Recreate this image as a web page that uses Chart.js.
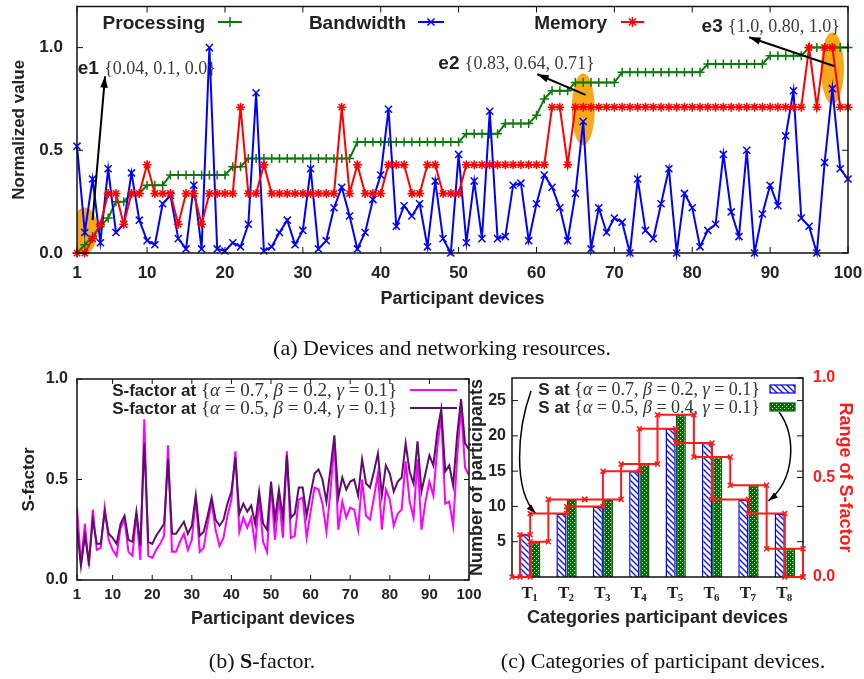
<!DOCTYPE html>
<html>
<head>
<meta charset="utf-8">
<script src="https://cdn.jsdelivr.net/npm/chart.js@4.4.0/dist/chart.umd.min.js"></script>
<style>
  html, body { margin: 0; padding: 0; background: #fff; }
  #wrap { position: relative; width: 864px; height: 679px; overflow: hidden; }
  #wrap canvas { position: absolute; left: 0; top: 0; }
</style>
</head>
<body>
<div id="wrap">
  <canvas id="devices" width="864" height="679"></canvas>
  <canvas id="sfactor" width="864" height="679"></canvas>
  <canvas id="categories" width="864" height="679"></canvas>
  <canvas id="steps" width="864" height="679"></canvas>
  <canvas id="captions" width="864" height="679"></canvas>
</div>
<script>
var SANS = '"Liberation Sans", Arial, sans-serif';
var SERIF = '"Liberation Serif", "Times New Roman", serif';
var INK = '#222';

// ---- (a) devices and networking resources ----
var deviceIds = [];
for (var n = 1; n <= 100; n++) deviceIds.push(n);
var deviceTicks = [1, 10, 20, 30, 40, 50, 60, 70, 80, 90, 100];
var normTicks = [0, 0.5, 1.0];

var processing = [
  0, 0.04, 0.08, 0.13, 0.17, 0.25, 0.25, 0.29, 0.29, 0.33,
  0.33, 0.33, 0.38, 0.38, 0.38, 0.38, 0.38, 0.38, 0.38, 0.38,
  0.42, 0.42, 0.46, 0.46, 0.46, 0.46, 0.46, 0.46, 0.46, 0.46,
  0.46, 0.46, 0.46, 0.46, 0.46, 0.46, 0.54, 0.54, 0.54, 0.54,
  0.54, 0.54, 0.54, 0.54, 0.54, 0.54, 0.54, 0.54, 0.54, 0.54,
  0.58, 0.58, 0.58, 0.58, 0.58, 0.63, 0.63, 0.63, 0.63, 0.67,
  0.75, 0.79, 0.79, 0.79, 0.83, 0.83, 0.83, 0.83, 0.83, 0.83,
  0.88, 0.88, 0.88, 0.88, 0.88, 0.88, 0.88, 0.88, 0.88, 0.88,
  0.88, 0.92, 0.92, 0.92, 0.92, 0.92, 0.92, 0.92, 0.92, 0.96,
  0.96, 0.96, 0.96, 0.96, 1.0, 1.0, 1.0, 1.0, 1.0, 1.0
];
var bandwidth = [
  0.52, 0.10, 0.36, 0.05, 0.41, 0.10, 0.14, 0.39, 0.16, 0.06,
  0.04, 0.24, 0.28, 0.07, 0.02, 0.33, 0.02, 1.0, 0.02, 0.01,
  0.05, 0.03, 0.14, 0.78, 0.01, 0.03, 0.10, 0.16, 0.04, 0.11,
  0.41, 0.02, 0.06, 0.22, 0.32, 0.18, 0.02, 0.10, 0.26, 0.38,
  0.70, 0.13, 0.23, 0.18, 0.24, 0.03, 0.35, 0.07, 0.0, 0.48,
  0.05, 0.35, 0.07, 0.69, 0.07, 0.08, 0.33, 0.34, 0.06, 0.24,
  0.38, 0.32, 0.22, 0.06, 0.29, 0.64, 0.02, 0.22, 0.10, 0.17,
  0.15, 0.0, 0.36, 0.11, 0.07, 0.24, 0.41, 0.0, 0.29, 0.22,
  0.03, 0.11, 0.14, 0.48, 0.20, 0.08, 0.50, 0.0, 0.19, 0.33,
  0.23, 0.57, 0.79, 0.17, 0.13, 0.0, 0.44, 0.80, 0.41, 0.36
];
var memory = [
  0, 0, 0.07, 0.14, 0.29, 0.29, 0.14, 0.29, 0.29, 0.43,
  0.29, 0.29, 0.29, 0.14, 0.29, 0.29, 0.14, 0.29, 0.29, 0.29,
  0.29, 0.71, 0.29, 0.29, 0.43, 0.29, 0.29, 0.29, 0.29, 0.29,
  0.29, 0.29, 0.29, 0.29, 0.71, 0.29, 0.43, 0.29, 0.29, 0.29,
  0.43, 0.43, 0.43, 0.29, 0.29, 0.43, 0.43, 0.29, 0.29, 0.29,
  0.43, 0.43, 0.43, 0.43, 0.43, 0.43, 0.43, 0.43, 0.43, 0.43,
  0.43, 0.71, 0.71, 0.43, 0.71, 0.71, 0.71, 0.71, 0.71, 0.71,
  0.71, 0.71, 0.71, 0.71, 0.71, 0.71, 0.71, 0.71, 0.71, 0.71,
  0.71, 0.71, 0.71, 0.71, 0.71, 0.71, 0.71, 0.71, 0.71, 0.71,
  0.71, 0.71, 0.71, 0.71, 1.0, 0.71, 1.0, 1.0, 0.71, 0.71
];
// highlighted devices: name, device id, {processing, bandwidth, memory} as printed
var highlights = [
  { name: 'e1', device: 2, values: ['0.04', '0.1', '0.0'] },
  { name: 'e2', device: 66, values: ['0.83', '0.64', '0.71'] },
  { name: 'e3', device: 98, values: ['1.0', '0.80', '1.0'] }
];

// ---- (b) S-factor ----
var sFactorA = [
  0.36, 0.08, 0.28, 0.07, 0.35, 0.15, 0.16, 0.36, 0.20, 0.15,
  0.12, 0.26, 0.30, 0.14, 0.12, 0.33, 0.10, 0.80, 0.12, 0.11,
  0.15, 0.18, 0.22, 0.67, 0.14, 0.14, 0.19, 0.23, 0.15, 0.20,
  0.41, 0.14, 0.16, 0.28, 0.39, 0.25, 0.17, 0.21, 0.32, 0.40,
  0.64, 0.24, 0.31, 0.26, 0.31, 0.17, 0.40, 0.19, 0.14, 0.47,
  0.20, 0.41, 0.21, 0.64, 0.21, 0.22, 0.40, 0.41, 0.21, 0.34,
  0.46, 0.45, 0.38, 0.24, 0.44, 0.68, 0.25, 0.39, 0.31, 0.36,
  0.35, 0.25, 0.50, 0.32, 0.30, 0.41, 0.53, 0.25, 0.45, 0.40,
  0.27, 0.33, 0.35, 0.59, 0.39, 0.31, 0.60, 0.25, 0.39, 0.49,
  0.42, 0.66, 0.82, 0.38, 0.39, 0.27, 0.61, 0.86, 0.56, 0.52
];
var sFactorB = [
  0.26, 0.07, 0.22, 0.09, 0.30, 0.18, 0.18, 0.34, 0.23, 0.21,
  0.18, 0.28, 0.32, 0.20, 0.19, 0.34, 0.17, 0.68, 0.19, 0.18,
  0.22, 0.25, 0.28, 0.60, 0.23, 0.23, 0.26, 0.29, 0.23, 0.27,
  0.42, 0.22, 0.24, 0.32, 0.41, 0.30, 0.27, 0.30, 0.38, 0.44,
  0.61, 0.33, 0.38, 0.34, 0.37, 0.28, 0.44, 0.28, 0.25, 0.49,
  0.30, 0.45, 0.31, 0.62, 0.31, 0.33, 0.46, 0.46, 0.32, 0.43,
  0.53, 0.55, 0.50, 0.39, 0.55, 0.72, 0.41, 0.51, 0.45, 0.49,
  0.50, 0.42, 0.60, 0.48, 0.46, 0.54, 0.63, 0.42, 0.57, 0.53,
  0.44, 0.49, 0.51, 0.68, 0.54, 0.48, 0.69, 0.44, 0.53, 0.62,
  0.57, 0.74, 0.85, 0.54, 0.57, 0.47, 0.72, 0.90, 0.68, 0.65
];
var weightsA = ['0.7', '0.2', '0.1'];
var weightsB = ['0.5', '0.4', '0.1'];

// ---- (c) categories ----
var categories = ['1', '2', '3', '4', '5', '6', '7', '8'];
var countsA = [6, 9, 10, 15, 21, 19, 11, 9];
var countsB = [5, 11, 11, 16, 23, 17, 13, 4];
var countTicks = [5, 10, 15, 20, 25];
var rangeTicks = [0, 0.5, 1.0];

function pts(vals) {
  return vals.map(function (v, i) { return { x: deviceIds[i], y: v }; });
}
function fixed1(v) { return Number(v).toFixed(1); }
function setTicks(vals) {
  return function (s) { s.ticks = vals.map(function (v) { return { value: v }; }); };
}
// force an axis box size and drop the label overhang padding
function fixSize(prop, size) {
  return function (s) {
    s[prop] = size;
    s.paddingLeft = 0; s.paddingRight = 0; s.paddingTop = 0; s.paddingBottom = 0;
  };
}
function bold(size) { return { family: SANS, size: size, weight: 'bold' }; }

function partsWidth(ctx, parts) {
  var w = 0;
  parts.forEach(function (p) { ctx.font = p[1]; w += ctx.measureText(p[0]).width; });
  return w;
}
function drawParts(ctx, parts, x, y, align) {
  var w = partsWidth(ctx, parts);
  if (align === 'right') x -= w;
  if (align === 'center') x -= w / 2;
  ctx.textAlign = 'left';
  ctx.textBaseline = 'alphabetic';
  parts.forEach(function (p) {
    ctx.font = p[1];
    ctx.fillStyle = p[2] || INK;
    ctx.fillText(p[0], x, y);
    x += ctx.measureText(p[0]).width;
  });
}
function weightParts(prefix, w, size) {
  var r = size + 'px ' + SERIF, it = 'italic ' + r;
  return [[prefix, 'bold 17px ' + SANS], ['{', r, '#333'], ['\u03b1', it, '#333'],
    [' = ' + w[0] + ', ', r, '#333'], ['\u03b2', it, '#333'], [' = ' + w[1] + ', ', r, '#333'],
    ['\u03b3', it, '#333'], [' = ' + w[2] + '}', r, '#333']];
}
function arrowHead(ctx, x, y, ang, size) {
  ctx.beginPath();
  ctx.moveTo(x, y);
  ctx.lineTo(x - size * Math.cos(ang - 0.32), y - size * Math.sin(ang - 0.32));
  ctx.lineTo(x - size * Math.cos(ang + 0.32), y - size * Math.sin(ang + 0.32));
  ctx.closePath();
  ctx.fill();
}
function frame(chart, xVals, yVals, yRightVals, len) {
  var ctx = chart.ctx, a = chart.chartArea, xs = chart.scales.x, ys = chart.scales.y;
  ctx.save();
  ctx.strokeStyle = '#111';
  ctx.lineWidth = 1;
  ctx.beginPath();
  xVals.forEach(function (v) {
    var p = xs.getPixelForValue(v);
    ctx.moveTo(p, a.bottom); ctx.lineTo(p, a.bottom - len);
    ctx.moveTo(p, a.top); ctx.lineTo(p, a.top + len);
  });
  yVals.forEach(function (v) {
    var p = ys.getPixelForValue(v);
    ctx.moveTo(a.left, p); ctx.lineTo(a.left + len, p);
    ctx.moveTo(a.right, p); ctx.lineTo(a.right - len, p);
  });
  if (yRightVals) {
    yRightVals.forEach(function (v) {
      var p = chart.scales.y2.getPixelForValue(v);
      ctx.moveTo(a.right, p); ctx.lineTo(a.right - len, p);
    });
  }
  ctx.stroke();
  ctx.lineWidth = 1.5;
  ctx.strokeRect(a.left, a.top, a.right - a.left, a.bottom - a.top);
  ctx.restore();
}

var PROC = '#0b7a0b', BAND = '#0000ff', MEM = '#ff0000';

// layout of the highlight marks (ellipse, arrow, label) in data units
var marks = {
  e1: { cy: 0.11, rx: 13, ry: 23, tail: [3.0, 0.16], head: [4.6, 0.86], label: [1.1, 0.905] },
  e2: { cy: 0.70, rx: 11.5, ry: 36, tail: [66.3, 0.77], head: [60.1, 0.87], label: [47.4, 0.93] },
  e3: { cy: 0.90, rx: 11.5, ry: 36, tail: [98.2, 0.91], head: [87.3, 1.05], label: [81.2, 1.11] }
};

var devicesDecor = {
  id: 'devicesDecor',
  beforeDatasetsDraw: function (chart) {
    var ctx = chart.ctx, a = chart.chartArea, xs = chart.scales.x, ys = chart.scales.y;
    ctx.save();
    ctx.beginPath();
    ctx.rect(a.left, a.top, a.right - a.left, a.bottom - a.top);
    ctx.clip();
    ctx.fillStyle = '#f7a81b';
    highlights.forEach(function (h) {
      var m = marks[h.name];
      ctx.beginPath();
      ctx.ellipse(xs.getPixelForValue(h.device), ys.getPixelForValue(m.cy), m.rx, m.ry, 0, 0, Math.PI * 2);
      ctx.fill();
    });
    ctx.restore();
  },
  afterDatasetsDraw: function (chart) {
    var ctx = chart.ctx, xs = chart.scales.x, ys = chart.scales.y;
    frame(chart, deviceTicks, normTicks, null, 6);
    ctx.save();
    highlights.forEach(function (h) {
      var m = marks[h.name];
      var x0 = xs.getPixelForValue(m.tail[0]), y0 = ys.getPixelForValue(m.tail[1]);
      var x1 = xs.getPixelForValue(m.head[0]), y1 = ys.getPixelForValue(m.head[1]);
      ctx.strokeStyle = '#000'; ctx.fillStyle = '#000'; ctx.lineWidth = 2;
      ctx.beginPath(); ctx.moveTo(x0, y0); ctx.lineTo(x1, y1); ctx.stroke();
      arrowHead(ctx, x1, y1, Math.atan2(y1 - y0, x1 - x0), 12);
      drawParts(ctx, [[h.name + ' ', 'bold 19px ' + SANS, INK],
        ['{' + h.values.join(', ') + '}', '18px ' + SERIF, '#3a3a3a']],
        xs.getPixelForValue(m.label[0]), ys.getPixelForValue(m.label[1]) + 7, 'left');
    });
    // key
    var key = [
      { text: 'Processing', right: 205, x0: 218, x1: 242, color: PROC, style: 'cross', r: 5 },
      { text: 'Bandwidth', right: 406, x0: 418, x1: 444, color: BAND, style: 'crossRot', r: 5 },
      { text: 'Memory', right: 607, x0: 621, x1: 644, color: MEM, style: 'star', r: 5 }
    ];
    key.forEach(function (k) {
      drawParts(ctx, [[k.text, 'bold 19px ' + SANS, INK]], k.right, 29, 'right');
      ctx.strokeStyle = k.color; ctx.fillStyle = k.color; ctx.lineWidth = 2;
      ctx.beginPath(); ctx.moveTo(k.x0, 22); ctx.lineTo(k.x1, 22); ctx.stroke();
      ctx.lineWidth = 1.5;
      Chart.helpers.drawPoint(ctx, { pointStyle: k.style, radius: k.r, rotation: 0, borderWidth: 1.5 }, (k.x0 + k.x1) / 2, 22);
    });
    ctx.restore();
  }
};

function lineSet(label, vals, color, style, radius, order) {
  return {
    label: label, data: pts(vals), borderColor: color, backgroundColor: color,
    pointBorderColor: color, pointBackgroundColor: color, pointStyle: style,
    pointRadius: radius, pointBorderWidth: 1.5, borderWidth: 2, tension: 0,
    fill: false, clip: 8, order: order
  };
}

new Chart(document.getElementById('devices'), {
  type: 'line',
  data: {
    datasets: [
      lineSet('Processing', processing, PROC, 'cross', 4.5, 3),
      lineSet('Bandwidth', bandwidth, BAND, 'crossRot', 5, 2),
      lineSet('Memory', memory, MEM, 'star', 4.5, 1)
    ]
  },
  options: {
    responsive: false, animation: false, events: [],
    layout: { padding: { left: 0, top: 4, right: 16, bottom: 366 } },
    plugins: { legend: { display: false }, tooltip: { enabled: false } },
    scales: {
      x: {
        type: 'linear', min: 1, max: 100,
        afterBuildTicks: setTicks(deviceTicks),
        afterFit: fixSize('height', 60),
        grid: { display: false, drawTicks: false }, border: { display: false },
        ticks: { font: bold(17), color: INK, padding: 10, maxRotation: 0, autoSkip: false },
        title: { display: true, text: 'Participant devices', font: bold(18), color: INK, padding: { top: 0, bottom: 3 } }
      },
      y: {
        min: 0, max: 1.2,
        afterBuildTicks: setTicks(normTicks),
        afterFit: fixSize('width', 77),
        grid: { display: false, drawTicks: false }, border: { display: false },
        ticks: { font: bold(17), color: INK, padding: 14, callback: fixed1 },
        title: { display: true, text: 'Normalized value', font: bold(17), color: INK, padding: { top: 9, bottom: 0 } }
      }
    }
  },
  plugins: [devicesDecor]
});

// ---- (b) ----
var MAG = '#ff00ff', PURPLE = '#5c0f6b';
var sfactorDecor = {
  id: 'sfactorDecor',
  afterDatasetsDraw: function (chart) {
    var ctx = chart.ctx;
    frame(chart, deviceTicks, normTicks, null, 5);
    ctx.save();
    var rows = [{ w: weightsA, color: MAG, y: 390 }, { w: weightsB, color: PURPLE, y: 408 }];
    rows.forEach(function (r) {
      drawParts(ctx, weightParts('S-factor at ', r.w, 19), 397, r.y + 6, 'right');
      ctx.strokeStyle = r.color; ctx.lineWidth = 2;
      ctx.beginPath(); ctx.moveTo(410, r.y); ctx.lineTo(457, r.y); ctx.stroke();
    });
    ctx.restore();
  }
};
function sLine(vals, color, order) {
  return { data: pts(vals), borderColor: color, borderWidth: 2, pointRadius: 0, tension: 0, fill: false, order: order };
}
new Chart(document.getElementById('sfactor'), {
  type: 'line',
  data: { datasets: [sLine(sFactorA, MAG, 2), sLine(sFactorB, PURPLE, 1)] },
  options: {
    responsive: false, animation: false, events: [],
    layout: { padding: { left: 0, top: 379, right: 395, bottom: 47 } },
    plugins: { legend: { display: false }, tooltip: { enabled: false } },
    scales: {
      x: {
        type: 'linear', min: 1, max: 100,
        afterBuildTicks: setTicks(deviceTicks),
        afterFit: fixSize('height', 52),
        grid: { display: false, drawTicks: false }, border: { display: false },
        ticks: { font: bold(15), color: INK, padding: 6, maxRotation: 0, autoSkip: false },
        title: { display: true, text: 'Participant devices', font: bold(18), color: INK, padding: { top: 0, bottom: 2 } }
      },
      y: {
        min: 0, max: 1.0,
        afterBuildTicks: setTicks(normTicks),
        afterFit: fixSize('width', 77),
        grid: { display: false, drawTicks: false }, border: { display: false },
        ticks: { font: bold(16), color: INK, padding: 9, callback: fixed1 },
        title: { display: true, text: 'S-factor', font: bold(17), color: INK, padding: { top: 19, bottom: 0 } }
      }
    }
  },
  plugins: [sfactorDecor]
});

// ---- (c) ----
function hatch() {
  var c = document.createElement('canvas'); c.width = 6; c.height = 6;
  var g = c.getContext('2d');
  g.fillStyle = '#fff'; g.fillRect(0, 0, 6, 6);
  g.strokeStyle = '#1a1aff'; g.lineWidth = 1.5;
  g.beginPath();
  g.moveTo(-3, 3); g.lineTo(3, 9);
  g.moveTo(0, 0); g.lineTo(6, 6);
  g.moveTo(3, -3); g.lineTo(9, 3);
  g.stroke();
  return g.createPattern(c, 'repeat');
}
function checker() {
  var c = document.createElement('canvas'); c.width = 4; c.height = 4;
  var g = c.getContext('2d');
  g.fillStyle = '#0a6a0a'; g.fillRect(0, 0, 4, 4);
  g.fillStyle = '#d8ecd8'; g.fillRect(0, 0, 1, 1); g.fillRect(2, 2, 1, 1);
  return g.createPattern(c, 'repeat');
}
var hatchFill = hatch(), checkFill = checker();
var CAT_PCT = 0.56;

// step outlines of both histograms, built from the counts (x in category units, T1 = 1)
function stepsA(vals) {
  var x0 = 1 - CAT_PCT / 2;
  var out = [{ x: x0, y: 0 }, { x: x0, y: vals[0] }];
  for (var k = 1; k <= vals.length; k++) {
    out.push({ x: k, y: vals[k - 1] });
    out.push({ x: k, y: k < vals.length ? vals[k] : 0 });
  }
  out.push({ x: vals.length + 0.5, y: 0 });
  return out;
}
function stepsB(vals) {
  var out = [{ x: 0.5, y: 0 }, { x: 1, y: 0 }, { x: 1, y: vals[0] }];
  for (var k = 1; k < vals.length; k++) {
    out.push({ x: k + 0.5, y: vals[k - 1] });
    out.push({ x: k + 0.5, y: vals[k] });
  }
  out.push({ x: vals.length + 0.5, y: vals[vals.length - 1] });
  out.push({ x: vals.length + 0.5, y: 0 });
  return out;
}
function stepSet(data) {
  return {
    data: data, borderColor: '#ff1a1a', borderWidth: 2, pointStyle: 'crossRot',
    pointRadius: 3.5, pointBorderWidth: 1.5, pointBorderColor: '#ff1a1a',
    tension: 0, fill: false, clip: 6
  };
}

var categoriesDecor = {
  id: 'categoriesDecor',
  afterDatasetsDraw: function (chart) {
    var ctx = chart.ctx, xs = chart.scales.x, ys = chart.scales.y;
    frame(chart, [], countTicks, rangeTicks, 6);
    ctx.save();
    // category labels T_k
    categories.forEach(function (c, i) {
      var px = xs.getPixelForValue(i);
      drawParts(ctx, [['T', 'bold 17px ' + SERIF, INK]], px - 3, 598, 'center');
      ctx.font = 'bold 11px ' + SERIF; ctx.fillStyle = INK; ctx.textAlign = 'left';
      ctx.fillText(c, px + 2, 601);
    });
    // key
    var rows = [{ w: weightsA, fill: hatchFill, line: '#0000ff', y: 389 }, { w: weightsB, fill: checkFill, line: '#006400', y: 407 }];
    rows.forEach(function (r) {
      drawParts(ctx, weightParts('S at ', r.w, 18), 760, r.y + 6, 'right');
      ctx.fillStyle = r.fill; ctx.fillRect(770, r.y - 4, 25, 8);
      ctx.strokeStyle = r.line; ctx.lineWidth = 1.2; ctx.strokeRect(770, r.y - 4, 25, 8);
    });
    // curved pointers
    ctx.strokeStyle = '#000'; ctx.fillStyle = '#000'; ctx.lineWidth = 1.5;
    var lx = xs.getPixelForValue(0.15), ly = ys.getPixelForValue(9);
    ctx.beginPath(); ctx.moveTo(531, 391);
    ctx.bezierCurveTo(517, 430, 513, 490, lx, ly); ctx.stroke();
    arrowHead(ctx, lx, ly, Math.atan2(ly - 490, lx - 513), 10);
    var rx = xs.getPixelForValue(6.55), ry = ys.getPixelForValue(10.8);
    ctx.beginPath(); ctx.moveTo(779, 412);
    ctx.bezierCurveTo(797, 435, 795, 480, rx, ry); ctx.stroke();
    arrowHead(ctx, rx, ry, Math.atan2(ry - 480, rx - 795), 10);
    ctx.restore();
  }
};

var catChart = new Chart(document.getElementById('categories'), {
  type: 'bar',
  data: {
    labels: categories,
    datasets: [
      { data: countsA, backgroundColor: hatchFill, borderColor: '#0000ff', borderWidth: 1.5,
        categoryPercentage: CAT_PCT, barPercentage: 1.0 },
      { data: countsB, backgroundColor: checkFill, borderColor: '#006400', borderWidth: 1.5,
        categoryPercentage: CAT_PCT, barPercentage: 1.0 }
    ]
  },
  options: {
    responsive: false, animation: false, events: [],
    layout: { padding: { left: 462, top: 378, right: 0, bottom: 47 } },
    plugins: { legend: { display: false }, tooltip: { enabled: false } },
    scales: {
      x: {
        type: 'category', offset: true,
        afterFit: fixSize('height', 55),
        grid: { display: false, drawTicks: false }, border: { display: false },
        ticks: { display: false },
        title: { display: true, text: 'Categories participant devices', font: bold(18), color: INK, padding: { top: 0, bottom: 3 } }
      },
      y: {
        min: 0, max: 28.2,
        afterBuildTicks: setTicks(countTicks),
        afterFit: fixSize('width', 50),
        grid: { display: false, drawTicks: false }, border: { display: false },
        ticks: { font: bold(16), color: INK, padding: 6 },
        title: { display: true, text: 'Number of participants', font: bold(18), color: INK, padding: { top: 4, bottom: 0 } }
      },
      y2: {
        position: 'right', min: 0, max: 1.0,
        afterBuildTicks: setTicks(rangeTicks),
        afterFit: fixSize('width', 61),
        grid: { display: false, drawTicks: false }, border: { display: false },
        ticks: { font: bold(16), color: '#ff1a1a', padding: 10, callback: fixed1 },
        title: { display: true, text: 'Range of S-factor', font: bold(18), color: '#ff1a1a', padding: { top: 8, bottom: 0 } }
      }
    }
  },
  plugins: [categoriesDecor]
});

// red step outlines drawn on an overlay sharing the bar chart's plot area
var ca = catChart.chartArea;
new Chart(document.getElementById('steps'), {
  type: 'line',
  data: { datasets: [stepSet(stepsA(countsA)), stepSet(stepsB(countsB))] },
  options: {
    responsive: false, animation: false, events: [],
    layout: { padding: { left: ca.left, top: ca.top, right: 864 - ca.right, bottom: 679 - ca.bottom } },
    plugins: { legend: { display: false }, tooltip: { enabled: false } },
    scales: {
      x: { type: 'linear', min: 0.5, max: categories.length + 0.5, offset: false, display: false },
      y: { min: 0, max: 28.2, display: false }
    }
  }
});

// ---- captions ----
(function () {
  var ctx = document.getElementById('captions').getContext('2d');
  var r = '22px ' + SERIF, b = 'bold 22px ' + SERIF;
  drawParts(ctx, [['(a) Devices and networking resources.', r, '#111']], 442, 355, 'center');
  drawParts(ctx, [['(b) ', r, '#111'], ['S', b, '#111'], ['-factor.', r, '#111']], 262, 668, 'center');
  drawParts(ctx, [['(c) Categories of participant devices.', r, '#111']], 663, 668, 'center');
})();
</script>
</body>
</html>
